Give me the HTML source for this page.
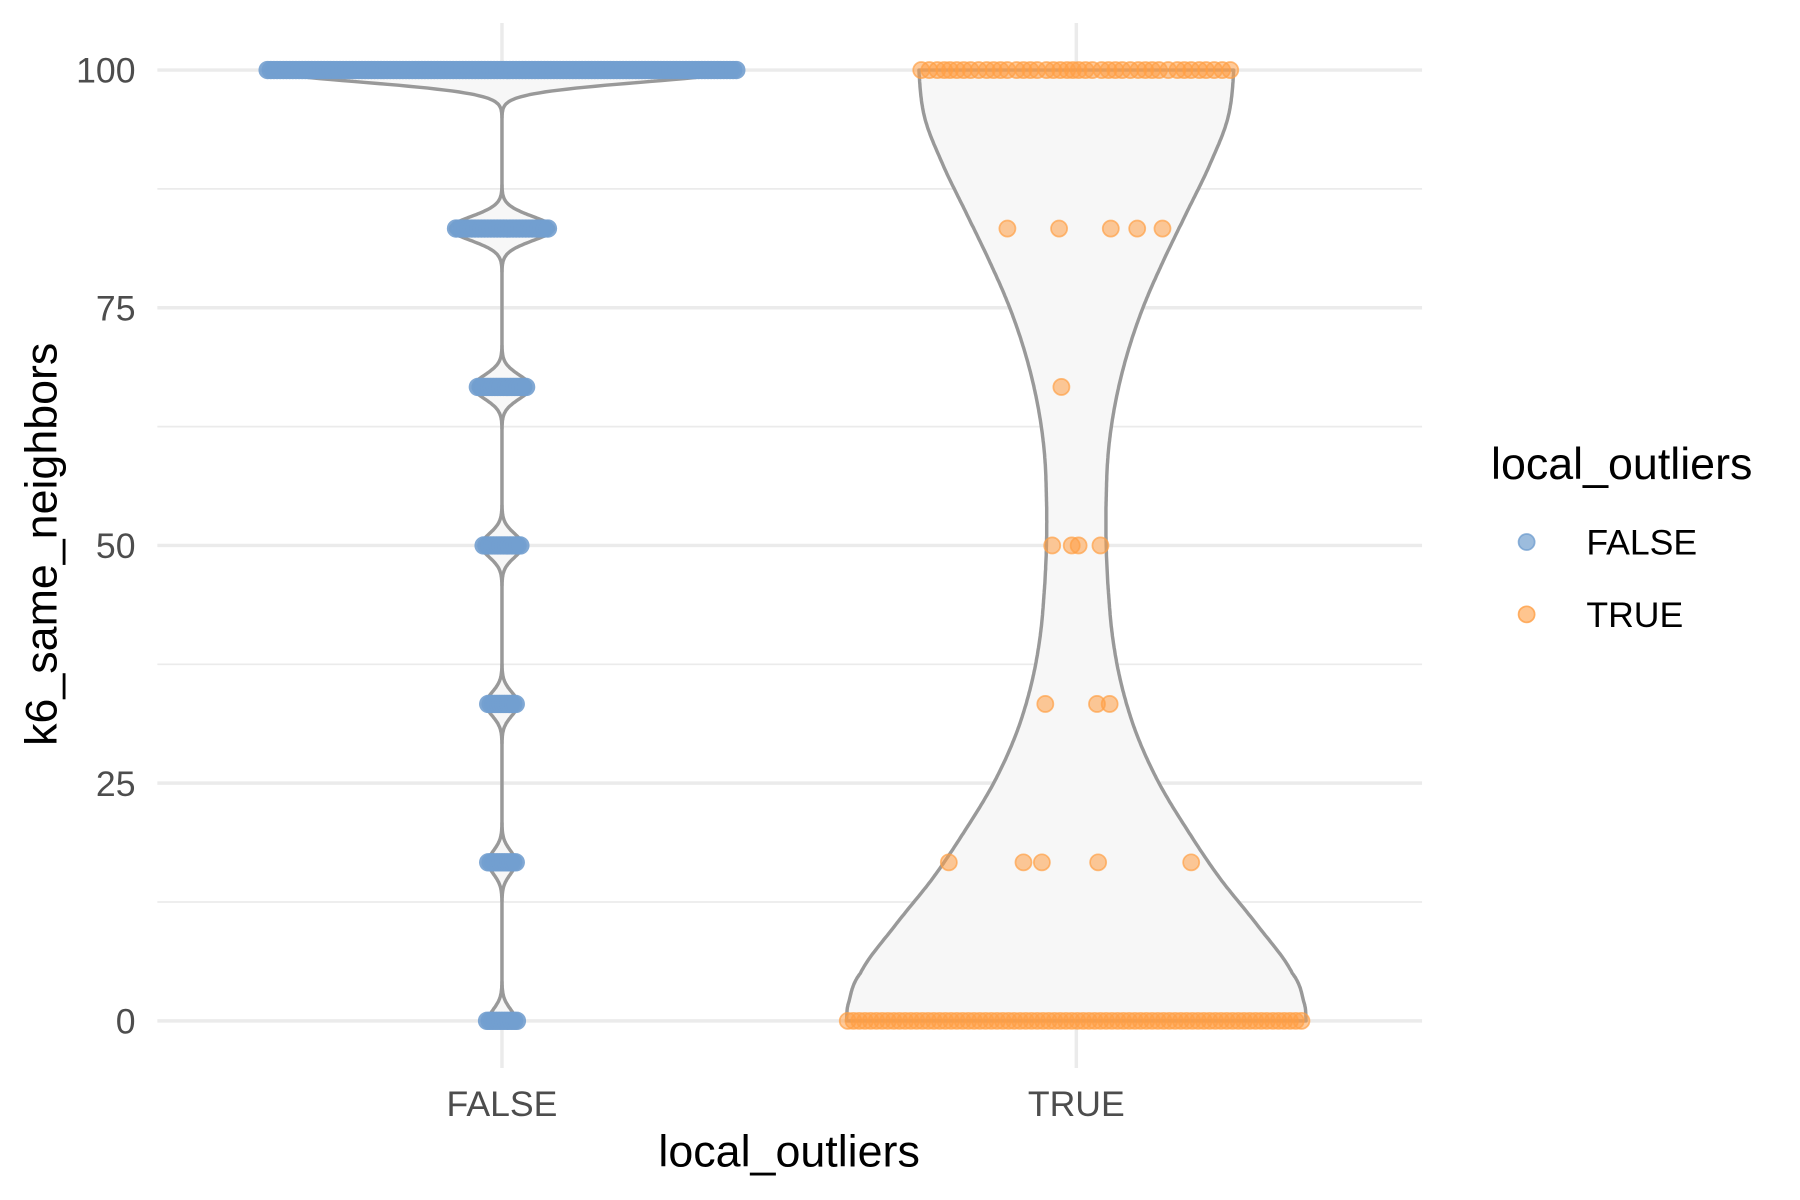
<!DOCTYPE html>
<html><head><meta charset="utf-8"><style>
html,body{margin:0;padding:0;background:#fff;}
svg{display:block;}
text{font-family:"Liberation Sans",sans-serif;}
</style></head><body>
<svg id="chart" width="1800" height="1200" viewBox="0 0 1567 1045" preserveAspectRatio="none" xmlns="http://www.w3.org/2000/svg">
<g id="grid"></g>
<g id="violins"></g>
<g id="points"></g>
<g id="axes"></g>
<text x="0" y="0" transform="translate(49,474) rotate(-90)" text-anchor="middle" font-size="39" fill="#000">k6_same_neighbors</text>
<text x="687" y="1016" text-anchor="middle" font-size="39" fill="#000">local_outliers</text>
<g>
<text x="1298" y="417" font-size="39" fill="#000">local_outliers</text>
<circle cx="1329" cy="472" r="7" fill="#729fcf" fill-opacity="0.7" stroke="#729fcf" stroke-opacity="0.8" stroke-width="1.5"/>
<text x="1381" y="483" font-size="31" fill="#000">FALSE</text>
<circle cx="1329" cy="535" r="7" fill="#ff9f45" fill-opacity="0.6" stroke="#ff9f45" stroke-opacity="0.8" stroke-width="1.5"/>
<text x="1381" y="546" font-size="31" fill="#000">TRUE</text>
</g>
</svg>
<script>
const categories = ["FALSE", "TRUE"];
const yTicks = [0, 25, 50, 75, 100];
const yTickLabels = ["0", "25", "50", "75", "100"];
const yMinor = [12.5, 37.5, 62.5, 87.5];
// FALSE group: distinct values and relative density peaks (px half-width at peak)
const falseValues = [0, 16.67, 33.33, 50, 66.67, 83.33, 100];
const falsePeak = [12, 12, 14, 18, 25, 45, 205];
const falseJitter = [13, 12, 12, 16, 21, 40, 204];
const falseCounts = [12, 12, 12, 14, 18, 30, 150];
// TRUE group: violin profile
const trueProfileV = [0, 2, 5, 10, 15, 20, 25, 30, 35, 40, 45, 50, 55, 60, 65, 70, 75, 80, 85, 90, 95, 100];
const trueProfileW = [200, 198, 188, 158, 125, 97, 72, 53, 40, 32, 28, 26, 26, 28, 34, 44, 58, 76, 96, 116, 132, 137];
// TRUE points: value and horizontal offset
const trueTopOffsets = [-135,-128,-121,-115,-110,-104,-98,-92,-85,-78,-72,-66,-60,-52,-46,-40,-34,-26,-20,-14,-8,-3,2,8,14,22,28,34,40,47,54,60,66,72,80,88,94,100,107,113,120,127,134];
const trueBottomOffsets = [];
for (let i = -199; i <= 196; i += 5) trueBottomOffsets.push(i);
const trueMidValues = [83.33,83.33,83.33,83.33,83.33,66.67,50,50,50,50,33.33,33.33,33.33,16.67,16.67,16.67,16.67,16.67];
const trueMidOffsets = [-60,-15,30,53,75,-13,-21,-4,2,21,-27,18,29,-111,-46,-30,19,100];

const NS = "http://www.w3.org/2000/svg";
const xPos = {FALSE: 437, TRUE: 937};
function y(v){ return 889 - v * 8.28; }
function mk(tag, attrs, parent){
  const e = document.createElementNS(NS, tag);
  for (const k in attrs) e.setAttribute(k, attrs[k]);
  parent.appendChild(e);
  return e;
}
const grid = document.getElementById("grid");
yMinor.forEach(v => {
  const l = mk("line", {x1:137, x2:1238, y1:y(v), y2:y(v), stroke:"#ebebeb", "stroke-width":1.5}, grid);
  
  
});
yTicks.forEach(v => {
  const l = mk("line", {x1:137, x2:1238, y1:y(v), y2:y(v), stroke:"#ebebeb", "stroke-width":3}, grid);
  
  
});
categories.forEach(c => {
  const l = mk("line", {x1:xPos[c], x2:xPos[c], y1:20, y2:930, stroke:"#ebebeb", "stroke-width":3}, grid);
  
  
});
const axes = document.getElementById("axes");
yTicks.forEach((v, i) => {
  const t = mk("text", {x:118, y:y(v)+11, "text-anchor":"end", "font-size":31, fill:"#4d4d4d"}, axes);
  t.textContent = yTickLabels[i];
  
  
});
categories.forEach(c => {
  const t = mk("text", {x:xPos[c], y:972, "text-anchor":"middle", "font-size":31, fill:"#4d4d4d"}, axes);
  t.textContent = c;
  
  
});

// violins
const vg = document.getElementById("violins");
function violinPath(cx, vs, ws){
  let left = [], right = [];
  for (let i = 0; i < vs.length; i++){
    right.push([cx + ws[i], y(vs[i])]);
    left.push([cx - ws[i], y(vs[i])]);
  }
  let d = "M" + right.map(p => p[0].toFixed(1)+","+p[1].toFixed(1)).join(" L");
  d += " L" + left.reverse().map(p => p[0].toFixed(1)+","+p[1].toFixed(1)).join(" L") + " Z";
  return d;
}
// FALSE density via kernel over value peaks
const fV = [], fW = [];
const sig = 1.25;
for (let v = 0; v <= 100.001; v += 0.1){
  let w = 0;
  for (let i = 0; i < falseValues.length; i++){
    const z = (v - falseValues[i]) / sig;
    w += falsePeak[i] * Math.exp(-0.5 * z * z);
  }
  fV.push(v); fW.push(w);
}
const pF = mk("path", {d: violinPath(xPos.FALSE, fV, fW), fill:"#f7f7f7", stroke:"#999", "stroke-width":3, "stroke-linejoin":"round"}, vg);


// TRUE: smooth Catmull-Rom interpolation of read profile
const tV = [], tW = [];
const n = trueProfileV.length;
for (let i = 0; i < n - 1; i++){
  const p0 = trueProfileW[Math.max(0, i-1)], p1 = trueProfileW[i], p2 = trueProfileW[i+1], p3 = trueProfileW[Math.min(n-1, i+2)];
  for (let s = 0; s < 20; s++){
    const t = s / 20, t2 = t*t, t3 = t2*t;
    const w = 0.5 * ((2*p1) + (-p0 + p2)*t + (2*p0 - 5*p1 + 4*p2 - p3)*t2 + (-p0 + 3*p1 - 3*p2 + p3)*t3);
    tV.push(trueProfileV[i] + (trueProfileV[i+1]-trueProfileV[i]) * t);
    tW.push(w);
  }
}
tV.push(100); tW.push(trueProfileW[n-1]);
const pT = mk("path", {d: violinPath(xPos.TRUE, tV, tW), fill:"#f7f7f7", stroke:"#999", "stroke-width":3, "stroke-linejoin":"round"}, vg);



// points
const pg = document.getElementById("points");
falseValues.forEach((v, i) => {
  const cnt = falseCounts[i], ext = falseJitter[i];
  for (let k = 0; k < cnt; k++){
    const off = -ext + (2 * ext) * k / (cnt - 1);
    const c = mk("circle", {cx: xPos.FALSE + off, cy: y(v), r: 8, fill:"#729fcf", "fill-opacity":0.9}, pg);
    
    
  }
});
function truePoint(v, off){
  const c = mk("circle", {cx: xPos.TRUE + off, cy: y(v), r: 7, fill:"#ff9f45", "fill-opacity":0.55, stroke:"#ff9f45", "stroke-opacity":0.7, "stroke-width":1.5}, pg);
  
  
}
trueTopOffsets.forEach(o => truePoint(100, o));
trueBottomOffsets.forEach(o => truePoint(0, o));
trueMidValues.forEach((v, i) => truePoint(v, trueMidOffsets[i]));
</script>
</body></html>
